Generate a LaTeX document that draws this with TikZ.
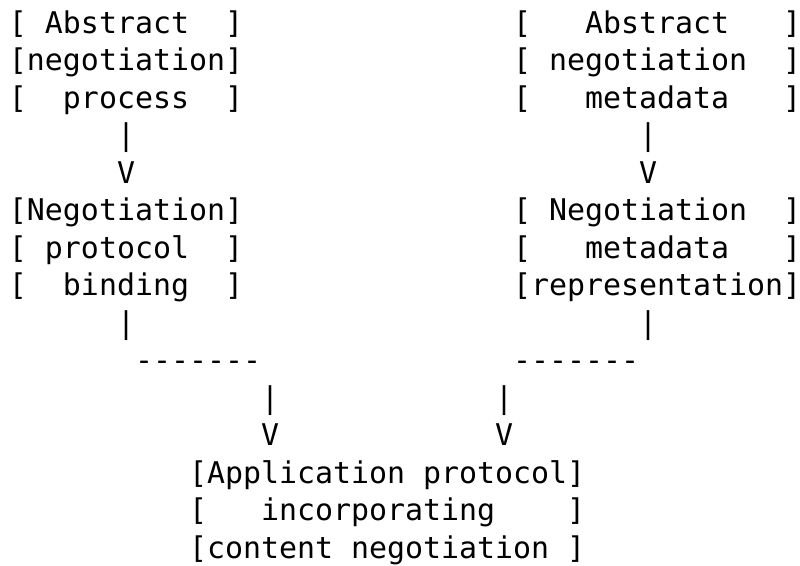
\documentclass[tikz,border=0pt]{standalone}
\usepackage{fontspec}
\newfontfamily\asciimono{DejaVu Sans Mono}
\tikzset{
  asc/.style={inner sep=0pt, outer sep=0pt, anchor=base west, text=black,
    font=\asciimono\fontsize{29.9pt}{37.5pt}\selectfont}
}
\begin{document}
\begin{tikzpicture}[x=18pt, y=-37.5pt]
\fill[white] (0,0) rectangle (44.444,15.093);
\useasboundingbox (0,0) rectangle (44.444,15.093);
% left column
\node[asc] (la1) at (0.5,0.888) {[~Abstract~~]};
\node[asc] (la2) at (0.5,1.888) {[negotiation]};
\node[asc] (la3) at (0.5,2.888) {[~~process~~]};
\node[asc] (lp1) at (6.5,3.888) {|};
\node[asc] (lv1) at (6.5,4.888) {V};
\node[asc] (lb1) at (0.5,5.888) {[Negotiation]};
\node[asc] (lb2) at (0.5,6.888) {[~protocol~~]};
\node[asc] (lb3) at (0.5,7.888) {[~~binding~~]};
\node[asc] (lp2) at (6.5,8.888) {|};
\node[asc] (ld) at (7.5,9.888) {-{}-{}-{}-{}-{}-{}-};
\node[asc] (lp3) at (14.5,10.888) {|};
\node[asc] (lv2) at (14.5,11.888) {V};
% right column
\node[asc] (ra1) at (28.5,0.888) {[~~~Abstract~~~]};
\node[asc] (ra2) at (28.5,1.888) {[~negotiation~~]};
\node[asc] (ra3) at (28.5,2.888) {[~~~metadata~~~]};
\node[asc] (rp1) at (35.5,3.888) {|};
\node[asc] (rv1) at (35.5,4.888) {V};
\node[asc] (rb1) at (28.5,5.888) {[~Negotiation~~]};
\node[asc] (rb2) at (28.5,6.888) {[~~~metadata~~~]};
\node[asc] (rb3) at (28.5,7.888) {[representation]};
\node[asc] (rp2) at (35.5,8.888) {|};
\node[asc] (rd) at (28.5,9.888) {-{}-{}-{}-{}-{}-{}-};
\node[asc] (rp3) at (27.5,10.888) {|};
\node[asc] (rv2) at (27.5,11.888) {V};
% bottom box
\node[asc] (c1) at (10.5,12.888) {[Application protocol]};
\node[asc] (c2) at (10.5,13.888) {[~~~incorporating~~~~]};
\node[asc] (c3) at (10.5,14.888) {[content negotiation~]};
\end{tikzpicture}
\end{document}
